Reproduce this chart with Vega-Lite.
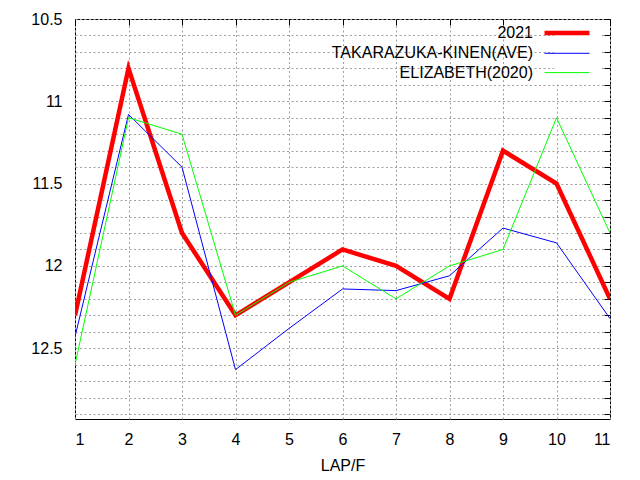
{
  "$schema": "https://vega.github.io/schema/vega-lite/v6.json",
  "width": 535,
  "height": 400,
  "autosize": "none",
  "padding": {"left": 75, "top": 19, "right": 30, "bottom": 61},
  "background": "white",
  "config": {
    "font": "Liberation Sans",
    "view": {"stroke": "black", "strokeWidth": 1},
    "axis": {
      "labelFont": "Liberation Sans",
      "labelFontSize": 16,
      "labelColor": "black",
      "titleFont": "Liberation Sans",
      "titleFontSize": 16,
      "titleFontWeight": "normal",
      "titleColor": "black",
      "gridColor": "#a0a0a0",
      "gridDash": [2, 2.5],
      "gridOpacity": 1,
      "domain": false
    }
  },
  "data": {
    "values": [
      {"lap": 1, "time": 12.3, "series": "2021"},
      {"lap": 2, "time": 10.8, "series": "2021"},
      {"lap": 3, "time": 11.8, "series": "2021"},
      {"lap": 4, "time": 12.3, "series": "2021"},
      {"lap": 5, "time": 12.1, "series": "2021"},
      {"lap": 6, "time": 11.9, "series": "2021"},
      {"lap": 7, "time": 12.0, "series": "2021"},
      {"lap": 8, "time": 12.2, "series": "2021"},
      {"lap": 9, "time": 11.3, "series": "2021"},
      {"lap": 10, "time": 11.5, "series": "2021"},
      {"lap": 11, "time": 12.2, "series": "2021"},
      {"lap": 1, "time": 12.43, "series": "TAKARAZUKA-KINEN(AVE)"},
      {"lap": 2, "time": 11.08, "series": "TAKARAZUKA-KINEN(AVE)"},
      {"lap": 3, "time": 11.4, "series": "TAKARAZUKA-KINEN(AVE)"},
      {"lap": 4, "time": 12.63, "series": "TAKARAZUKA-KINEN(AVE)"},
      {"lap": 5, "time": 12.38, "series": "TAKARAZUKA-KINEN(AVE)"},
      {"lap": 6, "time": 12.14, "series": "TAKARAZUKA-KINEN(AVE)"},
      {"lap": 7, "time": 12.15, "series": "TAKARAZUKA-KINEN(AVE)"},
      {"lap": 8, "time": 12.06, "series": "TAKARAZUKA-KINEN(AVE)"},
      {"lap": 9, "time": 11.77, "series": "TAKARAZUKA-KINEN(AVE)"},
      {"lap": 10, "time": 11.86, "series": "TAKARAZUKA-KINEN(AVE)"},
      {"lap": 11, "time": 12.32, "series": "TAKARAZUKA-KINEN(AVE)"},
      {"lap": 1, "time": 12.6, "series": "ELIZABETH(2020)"},
      {"lap": 2, "time": 11.1, "series": "ELIZABETH(2020)"},
      {"lap": 3, "time": 11.2, "series": "ELIZABETH(2020)"},
      {"lap": 4, "time": 12.3, "series": "ELIZABETH(2020)"},
      {"lap": 5, "time": 12.1, "series": "ELIZABETH(2020)"},
      {"lap": 6, "time": 12.0, "series": "ELIZABETH(2020)"},
      {"lap": 7, "time": 12.2, "series": "ELIZABETH(2020)"},
      {"lap": 8, "time": 12.0, "series": "ELIZABETH(2020)"},
      {"lap": 9, "time": 11.9, "series": "ELIZABETH(2020)"},
      {"lap": 10, "time": 11.1, "series": "ELIZABETH(2020)"},
      {"lap": 11, "time": 11.8, "series": "ELIZABETH(2020)"}
    ]
  },
  "layer": [
    {
      "mark": {"type": "line", "clip": true},
      "encoding": {
        "x": {
          "field": "lap",
          "type": "quantitative",
          "scale": {"domain": [1, 11], "nice": false, "zero": false},
          "axis": {
            "orient": "bottom",
            "title": "LAP/F",
            "values": [1, 2, 3, 4, 5, 6, 7, 8, 9, 10, 11],
            "format": "d",
            "ticks": false,
            "labelPadding": 12,
            "titlePadding": 10,
            "grid": true
          }
        },
        "y": {
          "field": "time",
          "type": "quantitative",
          "scale": {"domain": [10.5, 12.93], "reverse": true, "nice": false, "zero": false},
          "axis": {
            "orient": "left",
            "title": null,
            "values": [10.5, 10.6, 10.7, 10.8, 10.9, 11, 11.1, 11.2, 11.3, 11.4, 11.5, 11.6, 11.7, 11.8, 11.9, 12, 12.1, 12.2, 12.3, 12.4, 12.5, 12.6, 12.7, 12.8, 12.9],
            "labelExpr": "abs(datum.value * 2 - round(datum.value * 2)) < 0.001 ? format(datum.value, '~g') : ''",
            "ticks": false,
            "labelPadding": 13,
            "grid": true
          }
        },
        "color": {
          "field": "series",
          "type": "nominal",
          "scale": {
            "domain": ["2021", "TAKARAZUKA-KINEN(AVE)", "ELIZABETH(2020)"],
            "range": ["#ff0000", "#0000ff", "#00ff00"]
          },
          "legend": {
            "title": null,
            "orient": "none",
            "legendX": 479,
            "legendY": 1,
            "padding": 3,
            "fillColor": "white",
            "symbolType": "M-3,0H3",
            "symbolSize": 225,
            "rowPadding": 3.3,
            "labelAlign": "right",
            "labelOffset": -44,
            "labelLimit": 400,
            "labelFont": "Liberation Sans",
            "labelFontSize": 16,
            "labelColor": "black",
            "encode": {
              "symbols": {
                "update": {
                  "strokeWidth": {"signal": "datum.value === '2021' ? 4.5 : 1"}
                }
              }
            }
          }
        },
        "strokeWidth": {
          "field": "series",
          "type": "ordinal",
          "scale": {
            "type": "ordinal",
            "domain": ["2021", "TAKARAZUKA-KINEN(AVE)", "ELIZABETH(2020)"],
            "range": [4.5, 1, 1]
          },
          "legend": null
        }
      }
    },
    {
      "mark": {"type": "point", "opacity": 0},
      "encoding": {
        "x": {
          "field": "lap",
          "type": "quantitative",
          "scale": {"domain": [1, 11], "nice": false, "zero": false},
          "axis": {
            "orient": "top",
            "title": null,
            "values": [1, 2, 3, 4, 5, 6, 7, 8, 9, 10, 11],
            "labels": false,
            "grid": false,
            "ticks": true,
            "tickSize": -6,
            "tickColor": "black"
          }
        },
        "y": {
          "field": "time",
          "type": "quantitative",
          "scale": {"domain": [10.5, 12.93], "reverse": true, "nice": false, "zero": false},
          "axis": {
            "orient": "right",
            "title": null,
            "values": [10.5, 10.6, 10.7, 10.8, 10.9, 11, 11.1, 11.2, 11.3, 11.4, 11.5, 11.6, 11.7, 11.8, 11.9, 12, 12.1, 12.2, 12.3, 12.4, 12.5, 12.6, 12.7, 12.8, 12.9],
            "labels": false,
            "grid": false,
            "ticks": true,
            "tickSize": -6,
            "tickColor": "black"
          }
        }
      }
    }
  ],
  "resolve": {"scale": {"x": "independent", "y": "independent"}}
}
